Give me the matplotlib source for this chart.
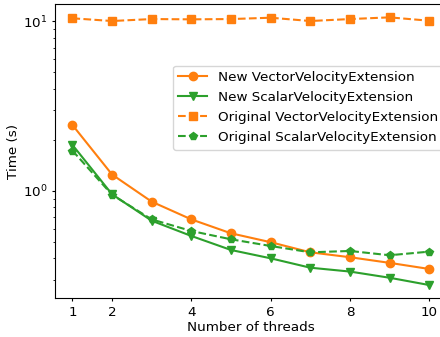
import numpy as np
import matplotlib
matplotlib.use("Agg")
import matplotlib.pyplot as plt

plt.rcParams['font.size'] = 9.7

threads = [1, 2, 3, 4, 5, 6, 7, 8, 9, 10]
new_vector = [2.45, 1.25, 0.865, 0.68, 0.563, 0.499, 0.435, 0.407, 0.377, 0.347]
new_scalar = [1.87, 0.956, 0.668, 0.543, 0.449, 0.401, 0.353, 0.335, 0.308, 0.279]
orig_vector = [10.42, 10.04, 10.31, 10.27, 10.31, 10.50, 10.04, 10.31, 10.55, 10.08]
orig_scalar = [1.73, 0.95, 0.68, 0.581, 0.519, 0.474, 0.435, 0.443, 0.418, 0.439]
xticks = [1, 2, 4, 6, 8, 10]

fig = plt.figure(figsize=(4.4, 3.37), dpi=100)
ax = fig.add_axes([0.124, 0.1148, 0.892, 0.8725])

ax.plot(threads, new_vector, '-o', color='C1', label="New VectorVelocityExtension")
ax.plot(threads, new_scalar, '-v', color='C2', label="New ScalarVelocityExtension")
ax.plot(threads, orig_vector, '--s', color='C1', label="Original VectorVelocityExtension")
ax.plot(threads, orig_scalar, '--p', color='C2', label="Original ScalarVelocityExtension")

ax.set_yscale('log')
ax.set_ylim(0.233, 12.6)
ax.set_xlim(0.55, 10.45)
ax.set_xticks(xticks)
ax.tick_params(which='major', length=2.2, pad=3)
ax.tick_params(which='minor', length=1.5)
ax.set_xlabel("Number of threads", labelpad=1.5)
ax.set_ylabel("Time (s)", labelpad=2)
ax.legend(loc='upper left', bbox_to_anchor=(0.302, 0.791), borderaxespad=0,
          labelspacing=0.52, handlelength=2.1)

fig.savefig("out.png", dpi=100)
